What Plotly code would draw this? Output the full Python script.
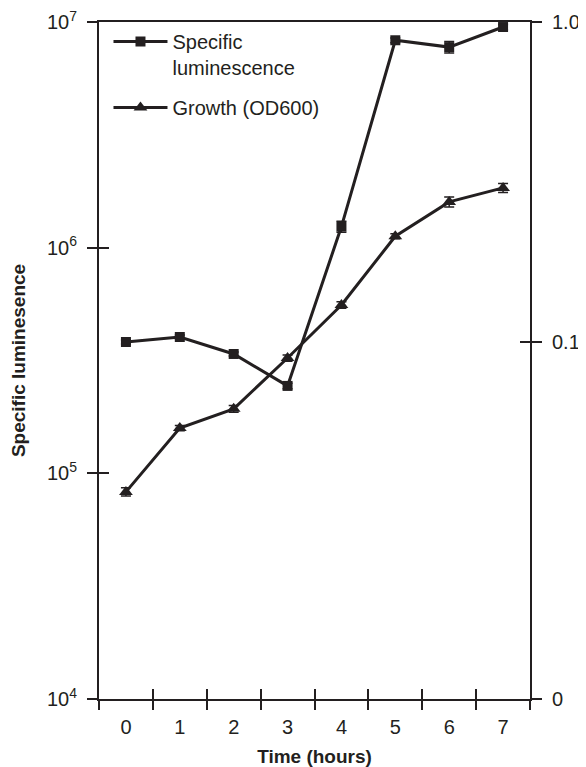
import plotly.graph_objects as go

hours = [0, 1, 2, 3, 4, 5, 6, 7]
hour_labels = ["0", "1", "2", "3", "4", "5", "6", "7"]
boundaries = [-0.5, 0.5, 1.5, 2.5, 3.5, 4.5, 5.5, 6.5, 7.5]

lum = [3.82e5, 4.02e5, 3.38e5, 2.44e5, 1.24e6, 8.3e6, 7.74e6, 9.5e6]
lum_err = [8e3, 8e3, 7e3, 7e3, 7e4, 2e5, 4.5e5, 2.5e5]

od = [0.034, 0.0538, 0.0618, 0.0891, 0.1305, 0.214, 0.274, 0.303]
od_err = [0.001, 0.001, 0.0015, 0.002, 0.003, 0.004, 0.01, 0.01]

left_tickvals = [1e4, 1e5, 1e6, 1e7]
left_ticktext = ["10<sup>4</sup>", "10<sup>5</sup>", "10<sup>6</sup>", "10<sup>7</sup>"]
right_bottom = 0.00766
right_tickvals = [right_bottom, 0.1, 1.0]
right_ticktext = ["0", "0.1", "1.0"]

INK = "#231f20"
FONT = "Liberation Sans, Arial, sans-serif"

fig = go.Figure()
fig.add_trace(go.Scatter(
    x=hours, y=lum, name="Specific<br>luminescence", mode="lines+markers",
    legendgroup="lum",
    line=dict(color=INK, width=3),
    marker=dict(symbol="square", size=10, color=INK),
    error_y=dict(type="data", array=lum_err, color=INK, thickness=1.5, width=5),
    xaxis="x", yaxis="y"))
fig.add_trace(go.Scatter(
    x=hours, y=od, name="Growth (OD600)", mode="lines+markers",
    legendgroup="od",
    line=dict(color=INK, width=3),
    marker=dict(symbol="triangle-up", size=12, color=INK),
    error_y=dict(type="data", array=od_err, color=INK, thickness=1.5, width=5),
    xaxis="x", yaxis="y2"))
# invisible helper traces that activate the overlay axes carrying the inner half of the crossing ticks
fig.add_trace(go.Scatter(x=[hours[0]], y=[lum[0]], mode="markers", marker=dict(opacity=0),
                         showlegend=False, hoverinfo="skip", xaxis="x2", yaxis="y3"))
fig.add_trace(go.Scatter(x=[hours[0]], y=[od[0]], mode="markers", marker=dict(opacity=0),
                         showlegend=False, hoverinfo="skip", xaxis="x2", yaxis="y4"))
fig.add_trace(go.Scatter(x=[hours[0]], y=[lum[0]], mode="markers", marker=dict(opacity=0),
                         showlegend=False, hoverinfo="skip", xaxis="x3", yaxis="y"))

xr = [-0.5, 7.5]
hidden = dict(showticklabels=False, showline=False, showgrid=False, zeroline=False,
              automargin=False, tickwidth=1.5, tickcolor=INK, ticklen=10)
fig.update_layout(
    width=578, height=759,
    margin=dict(l=91, r=56, t=14, b=68, autoexpand=False),
    paper_bgcolor="white", plot_bgcolor="white",
    font=dict(family=FONT, size=20, color=INK),
    showlegend=True,
    legend=dict(x=0.022, y=1.0, xanchor="left", yanchor="top", valign="top",
                bgcolor="rgba(0,0,0,0)", font=dict(size=20, color=INK),
                itemwidth=54, tracegroupgap=11),
    xaxis=dict(range=xr, tickmode="array", tickvals=hours, ticktext=hour_labels,
               ticks="", showline=True, linecolor=INK, linewidth=2, mirror=True,
               showgrid=False, zeroline=False, ticklabelstandoff=9, automargin=False,
               ticklabeloverflow="allow",
               title=dict(text="<b>Time (hours)</b>", font=dict(size=19), standoff=14)),
    xaxis2=dict(range=xr, overlaying="x", tickmode="array", tickvals=boundaries,
                ticks="outside", **hidden),
    xaxis3=dict(range=xr, overlaying="x", tickmode="array", tickvals=boundaries,
                ticks="inside", **hidden),
    yaxis=dict(type="log", range=[4, 7], tickmode="array", tickvals=left_tickvals,
               ticktext=left_ticktext, ticks="outside", ticklen=10, tickwidth=1.5,
               tickcolor=INK, showline=True, linecolor=INK, linewidth=2,
               showgrid=False, zeroline=False, ticklabelstandoff=6, automargin=False,
               ticklabeloverflow="allow",
               title=dict(text="<b>Specific luminesence</b>", font=dict(size=19), standoff=16)),
    yaxis2=dict(type="log", range=[-2.1158, 0], overlaying="y", side="right",
                tickmode="array", tickvals=right_tickvals, ticktext=right_ticktext,
                ticks="outside", ticklen=10, tickwidth=1.5, tickcolor=INK,
                ticklabelstandoff=6, automargin=False, ticklabeloverflow="allow",
                showline=True, linecolor=INK, linewidth=2, showgrid=False, zeroline=False),
    yaxis3=dict(type="log", range=[4, 7], overlaying="y", side="left",
                tickmode="array", tickvals=left_tickvals, ticks="inside", **hidden),
    yaxis4=dict(type="log", range=[-2.1158, 0], overlaying="y", side="right",
                tickmode="array", tickvals=right_tickvals, ticks="inside", **hidden),
)

fig.write_html("out.html")
